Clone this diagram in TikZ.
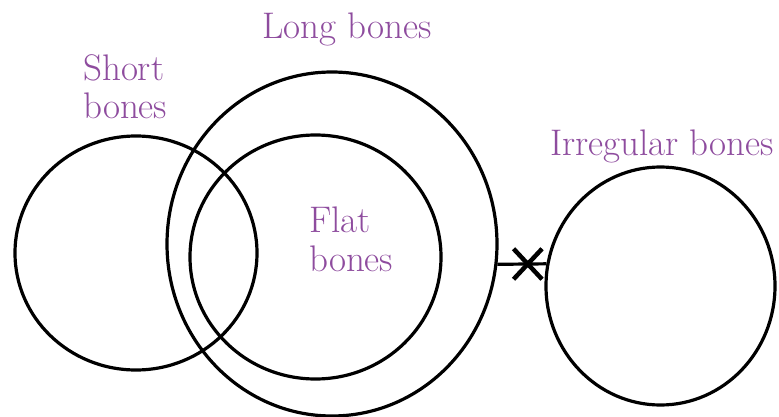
\documentclass[tikz,border=0pt]{standalone}
\usetikzlibrary{shapes.geometric,shapes.misc}
\definecolor{bonepurple}{RGB}{142,76,158}
\begin{document}
\begin{tikzpicture}[x=1pt,y=-1pt,
bone/.style={ellipse, draw, line width=3.2pt, inner sep=0pt},
label/.style={text=bonepurple, font=\fontsize{37}{38.5}\selectfont, inner sep=0pt, align=left},
cross/.style={cross out, draw, line width=4.5pt, minimum width=24pt, minimum height=26pt, inner sep=0pt},]
\useasboundingbox (0,0) rectangle (779,417);
\node[bone, minimum width=242pt, minimum height=234pt] (short) at (136,253) {};
\node[bone, minimum width=330pt, minimum height=344pt] (long) at (332,244) {};
\node[bone, minimum width=251pt, minimum height=244pt] (flat) at (315.5,257) {};
\node[bone, minimum width=229pt, minimum height=238pt] (irregular) at (660.5,286) {};

\node[label, anchor=base west] (longtext) at (262,39) {Long bones};
\node[label, anchor=north west] (shorttext) at (83,54) {Short\\bones};
\node[label, anchor=north west] (flattext) at (309,207) {Flat\\bones};
\node[label, anchor=base west] (irregulartext) at (550,155) {Irregular bones};

\draw[line width=3.2pt] (long.-7.3) -- (irregular.169.4)
                node[cross, pos=0.62] (nolink) {};
\end{tikzpicture}
\end{document}
